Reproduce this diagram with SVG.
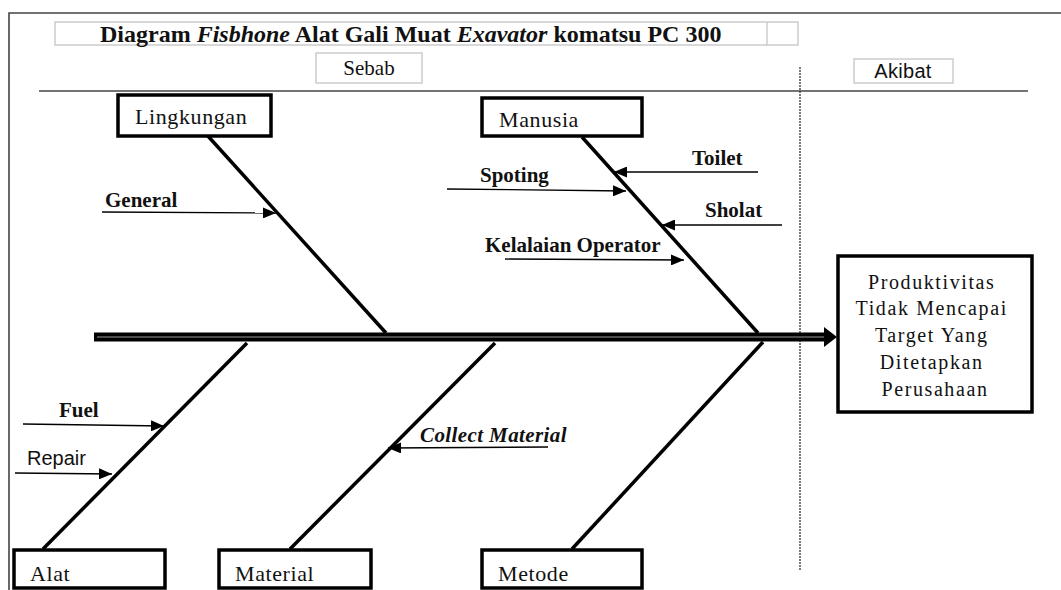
<svg xmlns="http://www.w3.org/2000/svg" width="1061" height="590" viewBox="0 0 1061 590">
<defs>
<marker id="ah" markerWidth="13" markerHeight="11" refX="13" refY="5.5" orient="auto" markerUnits="userSpaceOnUse">
<path d="M0,0 L13,5.5 L0,11 Z" fill="#000"/>
</marker>
<style>
.serif{font-family:"Liberation Serif","Times New Roman",serif;fill:#111}
.sans{font-family:"Liberation Sans",Arial,sans-serif;fill:#111}
.box{fill:#fff;stroke:#000;stroke-width:3.5}
.lbox{fill:#fff;stroke:#ccc;stroke-width:1.5}
.bone{stroke:#000;stroke-width:3.5;fill:none}
.sub{stroke:#000;stroke-width:1.3;fill:none;marker-end:url(#ah)}
.lbl{font-size:21px;font-weight:bold}
.cat{font-size:22px;letter-spacing:0.6px}
</style>
</defs>
<rect width="1061" height="590" fill="#fff"/>
<g id="frame" stroke="#444" stroke-width="1.6" fill="none">
<path d="M9,590 V13 H1061"/>
<line x1="39" y1="91" x2="1028" y2="91"/>
<line x1="800" y1="67" x2="800" y2="570" stroke="#333" stroke-width="1.3" stroke-dasharray="2,1"/>
</g>
<g id="title">
<rect class="lbox" x="55" y="22" width="743" height="23"/>
<line x1="767" y1="22" x2="767" y2="45" stroke="#ccc" stroke-width="1.5"/>
<text class="serif" x="100" y="42" font-size="24" font-weight="bold">Diagram <tspan font-style="italic">Fisbhone</tspan> Alat Gali Muat <tspan font-style="italic">Exavator</tspan> komatsu PC 300</text>
</g>
<g id="sebab">
<rect class="lbox" x="316" y="53" width="106" height="30"/>
<text class="serif" x="369" y="75" font-size="21" text-anchor="middle">Sebab</text>
</g>
<g id="akibat">
<rect class="lbox" x="854" y="59" width="99" height="24"/>
<text class="sans" x="903" y="78" font-size="20" letter-spacing="0.3" text-anchor="middle">Akibat</text>
</g>
<g id="connectors">
<line x1="94" y1="337" x2="828" y2="337" stroke="#000" stroke-width="9"/>
<line x1="97" y1="337" x2="826" y2="337" stroke="#999" stroke-width="1"/>
<path d="M824,327 L837,337 L824,347 Z" fill="#000"/>
<line class="bone" x1="207" y1="135" x2="386" y2="333"/>
<line class="bone" x1="582" y1="137" x2="758" y2="333"/>
<line class="bone" x1="247" y1="343" x2="43" y2="549"/>
<line class="bone" x1="495" y1="343" x2="290" y2="549"/>
<line class="bone" x1="763" y1="342" x2="572" y2="549"/>
<line class="sub" x1="102" y1="212" x2="276" y2="213"/>
<line class="sub" x1="447" y1="189" x2="626" y2="191"/>
<line class="sub" x1="758" y1="172" x2="614" y2="172"/>
<line class="sub" x1="782" y1="225" x2="662" y2="225"/>
<line class="sub" x1="505" y1="259" x2="684" y2="260"/>
<line class="sub" x1="23" y1="424" x2="164" y2="426"/>
<line class="sub" x1="15" y1="473" x2="112" y2="474"/>
<line class="sub" x1="548" y1="447" x2="388" y2="448"/>
</g>
<g id="lingkungan">
<rect class="box" x="118" y="95" width="153" height="41"/>
<text class="serif cat" x="135" y="124">Lingkungan</text>
</g>
<g id="manusia">
<rect class="box" x="482" y="98" width="160" height="38"/>
<text class="serif cat" x="499" y="127">Manusia</text>
</g>
<g id="alat">
<rect class="box" x="14" y="550" width="151" height="38"/>
<text class="serif cat" x="30" y="581">Alat</text>
</g>
<g id="material">
<rect class="box" x="219" y="550" width="152" height="38"/>
<text class="serif cat" x="235" y="581">Material</text>
</g>
<g id="metode">
<rect class="box" x="482" y="550" width="160" height="38"/>
<text class="serif cat" x="498" y="581">Metode</text>
</g>
<g id="akibat-node">
<rect class="box" x="838" y="256" width="194" height="156"/>
<text class="serif" font-size="20" letter-spacing="1.6" text-anchor="middle">
<tspan x="935" y="289">Produktivitas</tspan>
<tspan x="935" y="315">Tidak Mencapai</tspan>
<tspan x="935" y="342">Target Yang</tspan>
<tspan x="935" y="369">Ditetapkan</tspan>
<tspan x="935" y="396">Perusahaan</tspan>
</text>
</g>
<g id="general"><text class="serif lbl" x="105" y="207">General</text></g>
<g id="spoting"><text class="serif lbl" x="480" y="182" font-size="22">Spoting</text></g>
<g id="toilet"><text class="serif lbl" x="692" y="165">Toilet</text></g>
<g id="sholat"><text class="serif lbl" x="705" y="217">Sholat</text></g>
<g id="kelalaian"><text class="serif lbl" x="485" y="252">Kelalaian Operator</text></g>
<g id="fuel"><text class="serif lbl" x="59" y="417">Fuel</text></g>
<g id="repair"><text class="sans" x="27" y="465" font-size="20">Repair</text></g>
<g id="collect"><text class="serif lbl" x="420" y="442" font-size="22" font-style="italic" letter-spacing="0.4">Collect Material</text></g>
</svg>
